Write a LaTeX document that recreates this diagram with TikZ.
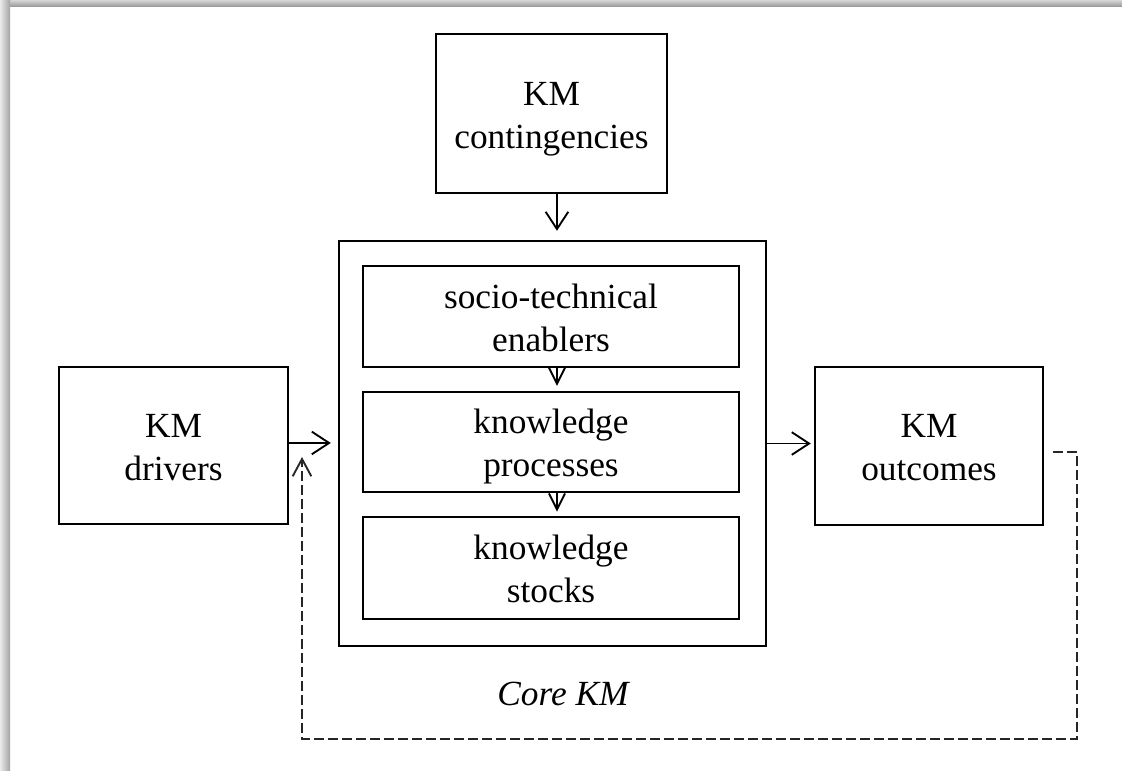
\documentclass[tikz,border=0pt]{standalone}
\usepackage{fontspec}
\setmainfont{Liberation Serif}
\usetikzlibrary{arrows.meta}
% fixed first-line height and last-line depth so that two-line labels sit alike
\newcommand\firstln{\rule{0pt}{26pt}}
\newcommand\lastln{\rule[-5.8pt]{0pt}{5.8pt}}
\begin{document}
\begin{tikzpicture}[x=0.75pt,y=-0.75pt,
  txt/.style={font=\fontsize{26.5}{32.25}\selectfont, align=center},
  box/.style={draw, line width=1.8pt, rectangle, inner sep=0pt, txt},
  sz/.style 2 args={minimum width=#1*0.75pt, minimum height=#2*0.75pt},
  arr/.style={line width=1.4pt, -{Straight Barb[length=13pt,width=17pt,line width=1.4pt]}},
  smallarr/.style={line width=1.4pt, -{Straight Barb[length=12pt,width=12pt,line width=1.4pt]}},
  feedback/.style={line width=1.4pt, draw=black!85, dash pattern=on 7pt off 3.5pt,
    -{Straight Barb[length=13pt,width=14pt,line width=1.4pt]}},
]
% page and its drop shadow
\fill[white] (0,0) rectangle (1122,771);
\useasboundingbox (0,0) rectangle (1122,771);
\shade[top color=black!16, bottom color=black!38] (0,0) rectangle (1122,6);
\shade[left color=black!8, right color=black!36] (0,0) rectangle (10,771);

% boxes
\node[box, sz={231}{159}] (cont) at (551.5,113.5) {\firstln KM\\contingencies\lastln};
\node[box, sz={427}{405}] (core) at (552.5,443.5) {};
\node[box, sz={376}{101}] (socio) at (551,316.5) {\firstln socio-technical\\enablers\lastln};
\node[box, sz={376}{100}] (proc) at (551,442) {\firstln knowledge\\processes\lastln};
\node[box, sz={376}{102}] (stocks) at (551,568) {\firstln knowledge\\stocks\lastln};
\node[box, sz={229}{157}] (drivers) at (173.5,445.5) {\firstln KM\\drivers\lastln};
\node[box, sz={228}{158}] (outcomes) at (929,446) {\firstln KM\\outcomes\lastln};
\node[txt, font=\fontsize{26.5}{32.25}\selectfont\itshape, anchor=base] (corelbl) at (563,705) {Core KM};

% connectors
\draw[arr, shorten >=6.75pt] ([xshift=4.1pt]cont.south) -- ([xshift=4.1pt]cont.south |- core.north);
\draw[smallarr, shorten >=3.75pt] ([xshift=4.5pt]socio.south) -- ([xshift=4.5pt]socio.south |- proc.north);
\draw[smallarr, shorten >=3.2pt] ([xshift=4.5pt]proc.south) -- ([xshift=4.5pt]proc.south |- stocks.north);
\draw[arr, shorten >=5.25pt] ([yshift=1.9pt]drivers.east) -- ([yshift=1.9pt]drivers.east -| core.west);
\draw[arr, shorten >=2.25pt] (core.east) -- (core.east -| outcomes.west);

% feedback loop from outcomes back to drivers
\coordinate (fbA) at (1077,452);
\coordinate (fbB) at (1077,739);
\coordinate (fbC) at (302,739);
\coordinate (fbD) at (302,457);
\draw[feedback] ([shift={(9,6)}]outcomes.east) -- (fbA) -- (fbB) -- (fbC) -- (fbD);
\end{tikzpicture}
\end{document}
